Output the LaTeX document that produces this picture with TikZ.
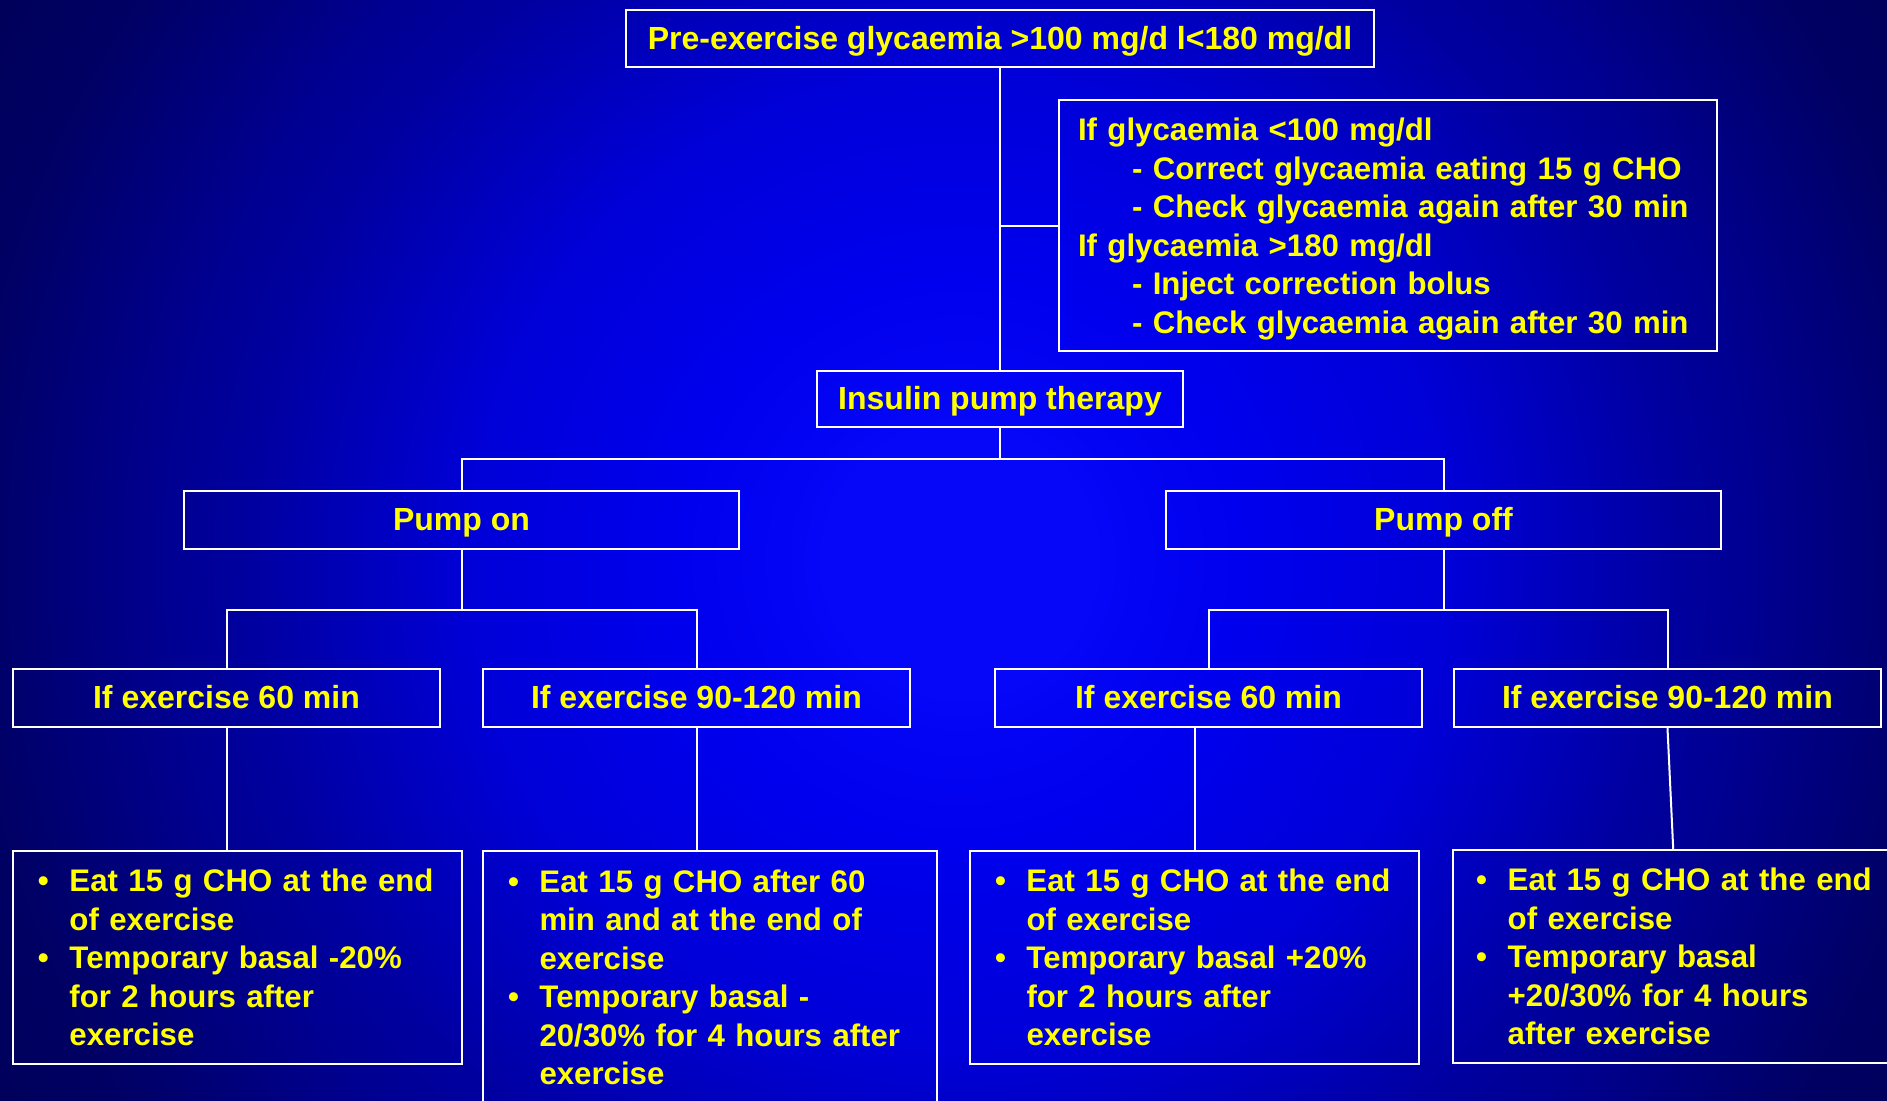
\documentclass[tikz,border=0pt]{standalone}
\usepackage{fontspec}
\setmainfont{Liberation Sans}
\usepackage{xcolor}
\definecolor{slideGlow}{HTML}{0606F8}
\definecolor{slideCore}{HTML}{0000EE}
\definecolor{slideBright}{HTML}{0000D8}
\definecolor{slideMid}{HTML}{0000A0}
\definecolor{slideDim}{HTML}{000090}
\definecolor{slideEdge}{HTML}{000064}
\definecolor{slideDeep}{HTML}{00005A}
\definecolor{slideText}{HTML}{FFFF00}
\usepackage{tikz}
\usetikzlibrary{positioning,calc}
\pgfdeclareradialshading{slideglow}{\pgfpoint{0bp}{0bp}}{color(0bp)=(slideGlow); color(3bp)=(slideGlow); color(6.3bp)=(slideCore); color(11bp)=(slideBright); color(16bp)=(slideMid); color(18bp)=(slideDim); color(22.4bp)=(slideEdge); color(25bp)=(slideDeep); color(30bp)=(slideDeep)}
\newcommand{\bulletline}[1]{\mbox{\makebox[15.75pt][l]{\textbullet}#1}}
\newcommand{\hangline}[1]{\mbox{\hspace*{15.75pt}#1}}
\newcommand{\subline}[1]{\mbox{\hspace*{27pt}#1}}
\tikzset{
    titlebox/.style={
        draw=white,
        rectangle,
        line width=1.2pt,
        align=center,
        minimum height=29pt,
        text height=11.5pt,
        text depth=1pt,
        text=slideText,
        font=\bfseries\fontsize{16pt}{19.25pt}\selectfont
    },
    durbox/.style={
        titlebox,
        minimum width=213.5pt
    },
    infobox/.style={
        draw=white,
        rectangle,
        line width=1.2pt,
        align=left,
        text width=310pt,
        inner xsep=9.5pt,
        minimum height=125.5pt,
        text=slideText,
        font=\bfseries\fontsize{15.6pt}{19.25pt}\selectfont
    },
    advicebox/.style={
        draw=white,
        rectangle,
        line width=1.2pt,
        align=left,
        inner xsep=12.5pt,
        minimum height=106.5pt,
        text=slideText,
        font=\bfseries\fontsize{15.6pt}{19.25pt}\selectfont
    },
    link/.style={
        draw=white,
        line width=1pt
    }
}
\begin{document}
\begin{tikzpicture}[x=0.5pt,y=-0.5pt]
    \useasboundingbox (0,0) rectangle (1887,1100);
    \begin{scope}
        \clip (0,0) rectangle (1887,1100);
        \shade[shading=slideglow] (-151,-551) rectangle (2071,1671);
    \end{scope}

    \node[titlebox, minimum width=374pt, minimum height=28.5pt] (pre) at (1000,38.5) {Pre-exercise glycaemia >100 mg/d l<180 mg/dl};
    \node[infobox] (check) at (1388,225.5) {\mbox{\rule{0pt}{14.8pt}If glycaemia <100 mg/dl}\\
        \subline{- Correct glycaemia eating 15 g CHO}\\
        \subline{- Check glycaemia again after 30 min}\\
        \mbox{If glycaemia >180 mg/dl}\\
        \subline{- Inject correction bolus}\\
        \subline{- Check glycaemia again after 30 min}};
    \node[titlebox, minimum width=183pt, minimum height=28pt] (pump) at (1000,399) {Insulin pump therapy};
    \node[titlebox, minimum width=277.5pt] (pumpon) at (461.5,520) {Pump on};
    \node[titlebox, minimum width=277.5pt] (pumpoff) at (1443.5,520) {Pump off};

    \node[durbox] (onshort) at (226.5,698) {If exercise 60 min};
    \node[durbox] (onlong) at (696.5,698) {If exercise 90-120 min};
    \node[durbox] (offshort) at (1208.5,698) {If exercise 60 min};
    \node[durbox] (offlong) at (1667.5,698) {If exercise 90-120 min};

    \node[advicebox, text width=199.5pt] (onshortdo) at (237.5,957.5) {\bulletline{Eat 15 g CHO at the end}\\
        \hangline{of exercise}\\
        \bulletline{Temporary basal -20\%}\\
        \hangline{for 2 hours after}\\
        \hangline{exercise}};
    \node[advicebox, text width=202pt, minimum height=126pt, anchor=north] (onlongdo) at (710,850) {\bulletline{Eat 15 g CHO after 60}\\
        \hangline{min and at the end of}\\
        \hangline{exercise}\\
        \bulletline{Temporary basal -}\\
        \hangline{20/30\% for 4 hours after}\\
        \hangline{exercise}};
    \node[advicebox, text width=199.5pt] (offshortdo) at (1194.5,957.5) {\bulletline{Eat 15 g CHO at the end}\\
        \hangline{of exercise}\\
        \bulletline{Temporary basal +20\%}\\
        \hangline{for 2 hours after}\\
        \hangline{exercise}};
    \node[advicebox, text width=207pt, inner xsep=11.5pt, anchor=west] (offlongdo) at (1452,956.5) {\bulletline{Eat 15 g CHO at the end}\\
        \hangline{of exercise}\\
        \bulletline{Temporary basal}\\
        \hangline{+20/30\% for 4 hours}\\
        \hangline{after exercise}};

    % tree lines
    \coordinate (pumpfork) at ([yshift=-15.5pt]pump.south);
    \coordinate (onfork) at ([yshift=-30pt]pumpon.south);
    \coordinate (offfork) at ([yshift=-30pt]pumpoff.south);

    \draw[link] (pre) -- (pump);
    \draw[link] (pre.south |- check.west) -- (check.west);
    \draw[link] (pump) -- (pumpfork);
    \draw[link] (pumpon) |- (pumpfork) -| (pumpoff);
    \draw[link] (pumpon) -- (onfork);
    \draw[link] (onshort) |- (onfork) -| (onlong);
    \draw[link] (pumpoff) -- (offfork);
    \draw[link] (offshort) |- (offfork) -| (offlong);

    \draw[link] (onshort) -- (onshort |- onshortdo.north);
    \draw[link] (onlong) -- (onlong |- onlongdo.north);
    \draw[link] (offshortdo) -- (offshortdo |- offshort.south);
    \draw[link] (offlong.south) -- ([xshift=-5pt]offlongdo.north);
\end{tikzpicture}
\end{document}
